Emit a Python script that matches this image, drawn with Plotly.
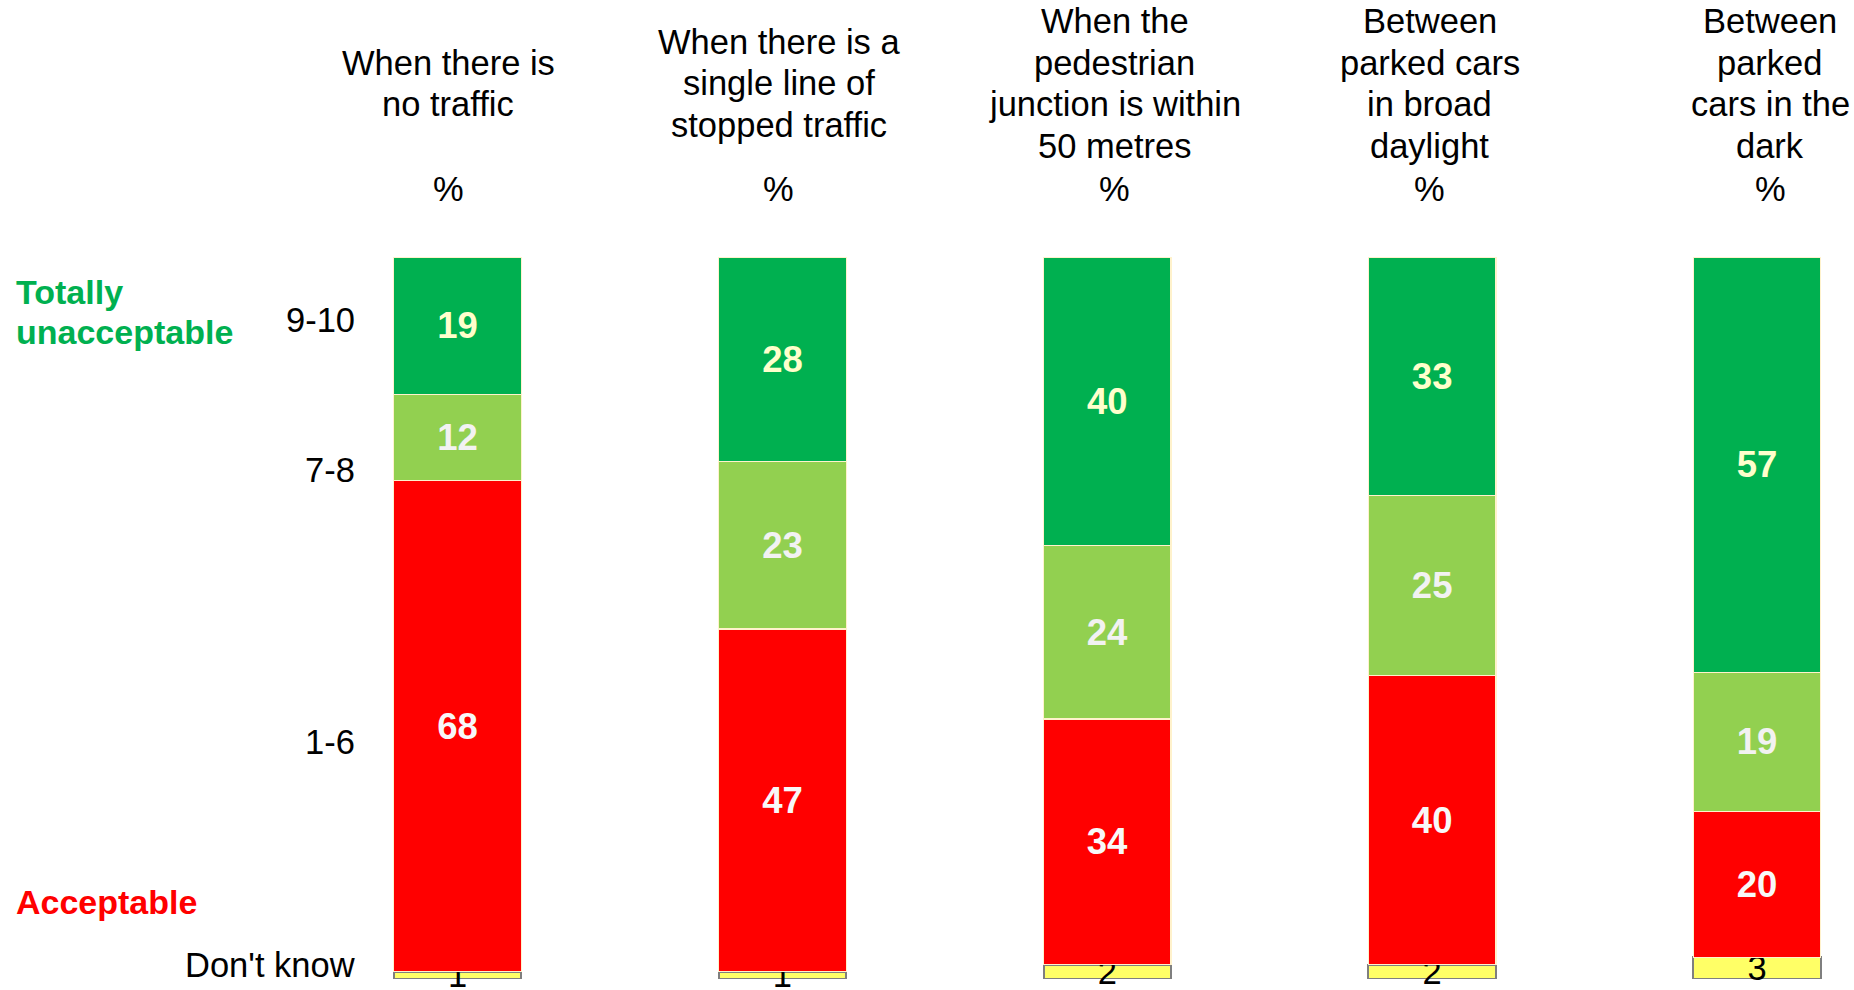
import plotly.graph_objects as go

# ---- data ----
headers = [
    ["When there is", "no traffic"],
    ["When there is a", "single line of", "stopped traffic"],
    ["When the", "pedestrian", "junction is within", "50 metres"],
    ["Between", "parked cars", "in broad", "daylight"],
    ["Between", "parked", "cars in the", "dark"],
]
positions = [0, 1, 2, 3, 4]
score_9_10 = [19, 28, 40, 33, 57]
score_7_8 = [12, 23, 24, 25, 19]
score_1_6 = [68, 47, 34, 40, 20]
dont_know = [1, 1, 2, 2, 3]
row_labels = ["9-10", "7-8", "1-6", "Don't know"]

# ---- layout constants (pixels) ----
W, H = 1854, 990
TOP, BOTTOM = 257, 979
PLOT_H = BOTTOM - TOP
SPACING = 324.85
FIRST_CENTER = 457.6
FONT = "Liberation Sans, Arial, sans-serif"
LINE_H = 41.4


def py(p):
    return (BOTTOM - p) / PLOT_H


def px(p):
    return p / W


x0 = -FIRST_CENTER / SPACING
x1 = x0 + W / SPACING
bar_w = 127.5 / SPACING

fig = go.Figure()

series = [
    ("Don't know", dont_know, "#FFFF66", "#7F7F7F", 2, "#000000", "normal", 34.5),
    ("1-6", score_1_6, "#FF0000", "#FFF2CC", 1.2, "#F8F8F8", "bold", 36.5),
    ("7-8", score_7_8, "#92D050", "#FFF2CC", 1.2, "#F2F2F2", "bold", 36.5),
    ("9-10", score_9_10, "#00B050", "#FFF2CC", 1.2, "#FFFFCC", "bold", 36.5),
]
for name, vals, color, lcolor, lw, tcolor, weight, fsize in series:
    fig.add_trace(go.Bar(
        x=positions, y=vals, name=name, width=bar_w,
        marker=dict(color=color, line=dict(color=lcolor, width=lw)),
        text=[str(v) for v in vals], textposition="inside",
        insidetextanchor="middle", textangle=0, constraintext="none",
        textfont=dict(family=FONT, size=fsize, color=tcolor, weight=weight),
        cliponaxis=False, showlegend=False, hoverinfo="skip",
    ))

annotations = []
header_shift = [-9.6, -3.6, 7.3, -2.5, 13]
HEADER_CENTER = 83.4
for i, lines in enumerate(headers):
    n = len(lines)
    for k, line in enumerate(lines):
        yy = HEADER_CENTER + (k - (n - 1) / 2) * LINE_H
        annotations.append(dict(x=positions[i], xref="x", y=py(yy), yref="paper",
                                text=line, showarrow=False, xanchor="center",
                                yanchor="middle", xshift=header_shift[i],
                                font=dict(family=FONT, size=34.5, color="#000000")))
    annotations.append(dict(x=positions[i], xref="x", y=py(189), yref="paper",
                            text="%", showarrow=False, xanchor="center", yanchor="middle",
                            xshift=header_shift[i],
                            font=dict(family=FONT, size=34.5, color="#000000")))

row_y = [320, 470, 742, 965]
for lab, yy in zip(row_labels, row_y):
    annotations.append(dict(x=px(357), xref="paper", y=py(yy), yref="paper",
                            text=lab, showarrow=False, xanchor="right", yanchor="middle",
                            font=dict(family=FONT, size=34.5, color="#000000")))

for txt, yy, col in [("Totally", 292, "#00B050"), ("unacceptable", 332, "#00B050"),
                     ("Acceptable", 902, "#FF0000")]:
    annotations.append(dict(x=px(14), xref="paper", y=py(yy), yref="paper",
                            text="<b>%s</b>" % txt, showarrow=False,
                            xanchor="left", yanchor="middle", align="left",
                            font=dict(family=FONT, size=34, color=col)))

fig.update_layout(
    width=W, height=H,
    barmode="stack", barnorm="percent",
    margin=dict(l=0, r=0, t=TOP, b=H - BOTTOM, pad=0),
    paper_bgcolor="white", plot_bgcolor="white",
    xaxis=dict(range=[x0, x1], visible=False, fixedrange=True),
    yaxis=dict(range=[0, 100], visible=False, fixedrange=True),
    annotations=annotations,
    font=dict(family=FONT),
)

fig.write_html("out.html", config={"displayModeBar": False},
               post_script="document.body.style.margin='0';document.body.style.overflow='hidden';")
